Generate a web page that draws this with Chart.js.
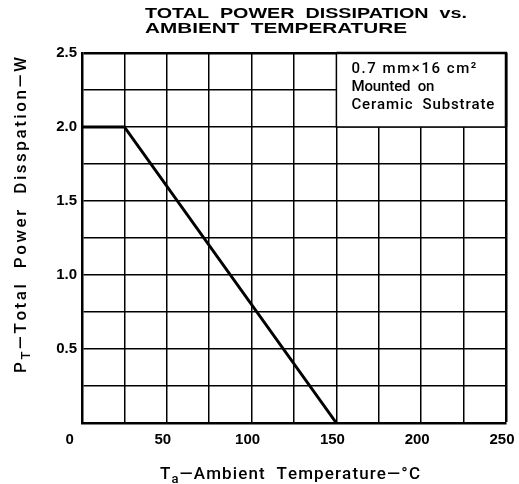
<!DOCTYPE html>
<html>
<head>
<meta charset="utf-8">
<script src="https://cdn.jsdelivr.net/npm/chart.js@4/dist/chart.umd.min.js"></script>
<style>
  html, body { margin:0; padding:0; background:#fff; }
  #wrap { width:519px; height:484px; }
</style>
</head>
<body>
<div id="wrap"><canvas id="chart"></canvas></div>
<script>
'use strict';

// ===== data =====
const TEMP  = [0, 25, 150];        // Ta, deg C
const POWER = [2.0, 2.0, 0];       // PT, W

// ===== tick labels (grid every 25 C / 0.25 W, labels every other line) =====
const X_TICK_LABELS = ['0    ','','50','','100','','150','','200','','250'];
const Y_TICK_LABELS = ['','','0.5','','1.0','','1.5','','2.0','','2.5'];

// ===== texts =====
const TITLE_LINES = ['TOTAL  POWER  DISSIPATION  vs.', 'AMBIENT  TEMPERATURE'];
const NOTE_LINES  = ['0.7 mm\u00d716 cm\u00b2', 'Mounted  on', 'Ceramic  Substrate'];

const SANS = '"Liberation Sans", Arial, sans-serif';
const MED  = 'Roboto, "Liberation Sans", sans-serif';

// draw text char by char, stretched to a given width
function drawSpaced(ctx, parts, x, y, width){
  const chars = [];
  parts.forEach(p => {
    ctx.font = p.font;
    for(const ch of p.text){
      chars.push({ ch, font:p.font, dy:p.dy || 0, w: ctx.measureText(ch).width });
    }
  });
  const natural = chars.reduce((a, c) => a + c.w, 0);
  const gap = chars.length > 1 ? (width - natural) / (chars.length - 1) : 0;
  let cx = x;
  chars.forEach(c => {
    ctx.font = c.font;
    ctx.fillText(c.ch, cx, y + c.dy);
    cx += c.w + gap;
  });
}

// draw text widened horizontally to a given width
function drawStretched(ctx, text, font, x, y, width){
  ctx.save();
  ctx.font = font;
  const k = width / ctx.measureText(text).width;
  ctx.translate(x, y);
  ctx.scale(k, 1);
  ctx.fillText(text, 0, 0);
  ctx.restore();
}

const textPlugin = {
  id: 'texts',
  afterDraw(chart){
    const ctx = chart.ctx;
    const xs = chart.scales.x, ys = chart.scales.y;
    ctx.save();
    ctx.fillStyle = '#000';
    ctx.strokeStyle = '#000';
    ctx.textAlign = 'left';
    ctx.textBaseline = 'alphabetic';

    // title
    drawStretched(ctx, TITLE_LINES[0], 'bold 14px ' + SANS, 145, 18, 322);
    drawStretched(ctx, TITLE_LINES[1], 'bold 14px ' + SANS, 145, 33, 262);

    // note box in the upper right cell block
    const x1 = xs.getPixelForValue(150), x2 = xs.getPixelForValue(250);
    const y1 = ys.getPixelForValue(2.5), y2 = ys.getPixelForValue(2.0);
    ctx.fillStyle = '#fff';
    ctx.fillRect(x1, y1, x2 - x1, y2 - y1);
    ctx.lineWidth = 1.5;
    ctx.beginPath();
    ctx.moveTo(x1, y1); ctx.lineTo(x1, y2); ctx.lineTo(x2, y2);
    ctx.stroke();
    ctx.lineWidth = 2.5;
    ctx.beginPath();
    ctx.moveTo(x1, y1); ctx.lineTo(x2, y1); ctx.lineTo(x2, y2);
    ctx.stroke();
    ctx.fillStyle = '#000';
    const nf = '500 15px ' + MED;
    drawSpaced(ctx, [{ text: NOTE_LINES[0], font: nf }], x1 + 15, 73, 125);
    drawSpaced(ctx, [{ text: NOTE_LINES[1], font: nf }], x1 + 15, 91, 83);
    drawSpaced(ctx, [{ text: NOTE_LINES[2], font: nf }], x1 + 15, 109, 143);

    // x axis title
    const tf = '500 17px ' + MED, sf = '500 13px ' + MED;
    drawSpaced(ctx, [
      { text: 'T', font: tf },
      { text: 'a', font: sf, dy: 4 },
      { text: '\u2014Ambient  Temperature\u2014\u00b0C', font: tf }
    ], 160, 479, 260);

    // y axis title (rotated)
    ctx.translate(26, 373);
    ctx.rotate(-Math.PI / 2);
    drawSpaced(ctx, [
      { text: 'P', font: tf },
      { text: 'T', font: sf, dy: 4 },
      { text: '\u2014Total  Power  Disspation\u2014W', font: tf }
    ], 0, 0, 316);
    ctx.restore();
  }
};

function edgeWidth(maxVal){
  return c => (c.tick && Math.abs(c.tick.value - maxVal) < 1e-6) ? 2.5 : 1.5;
}

new Chart(document.getElementById('chart'), {
  type: 'line',
  data: {
    datasets: [{
      data: TEMP.map((t, i) => ({ x: t, y: POWER[i] })),
      borderColor: '#000',
      borderWidth: 3,
      pointRadius: 0,
      tension: 0,
      fill: false
    }]
  },
  options: {
    responsive: true,
    maintainAspectRatio: false,
    animation: false,
    layout: { padding: { top: 53, right: 13, left: 0, bottom: 0 } },
    plugins: {
      legend: { display: false },
      tooltip: { enabled: false }
    },
    scales: {
      x: {
        type: 'linear',
        min: 0, max: 250,
        afterFit: s => { s.height = 61; s.paddingLeft = 0; s.paddingRight = 0; },
        ticks: {
          stepSize: 25,
          autoSkip: false,
          maxRotation: 0,
          padding: 8,
          labelOffset: -4,
          color: '#000',
          font: { family: SANS, size: 15, weight: 'bold' },
          callback: v => X_TICK_LABELS[Math.round(v / 25)]
        },
        grid: { color: '#000', lineWidth: edgeWidth(250), drawTicks: false },
        border: { color: '#000', width: 2.5 }
      },
      y: {
        min: 0, max: 2.5,
        afterFit: s => { s.width = 82; s.paddingTop = 0; s.paddingBottom = 0; },
        ticks: {
          stepSize: 0.25,
          autoSkip: false,
          padding: 5,
          color: '#000',
          font: { family: SANS, size: 15, weight: 'bold' },
          callback: v => Y_TICK_LABELS[Math.round(v / 0.25)]
        },
        grid: { color: '#000', lineWidth: edgeWidth(2.5), drawTicks: false },
        border: { color: '#000', width: 2.5 }
      }
    }
  },
  plugins: [textPlugin]
});
</script>
</body>
</html>
